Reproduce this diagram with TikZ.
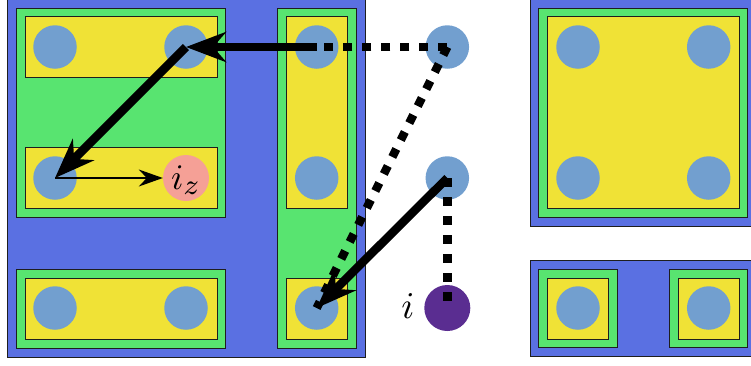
\documentclass[tikz,border=0pt]{standalone}
\usetikzlibrary{arrows.meta}
\definecolor{cblue}{RGB}{90,112,226}
\definecolor{cgreen}{RGB}{88,228,112}
\definecolor{cyellow}{RGB}{240,226,54}
\definecolor{cpin}{RGB}{114,159,207}
\definecolor{cpink}{RGB}{245,160,150}
\definecolor{cpurple}{RGB}{90,45,145}
\definecolor{cedge}{RGB}{30,30,30}
\begin{document}
\begin{tikzpicture}[x=1pt,y=-1pt,
  bluebox/.style={fill=cblue,draw=cedge,line width=0.9pt},
  greenbox/.style={fill=cgreen,draw=cedge,line width=0.9pt},
  yellowbox/.style={fill=cyellow,draw=cedge,line width=0.9pt},
  pin/.style={circle,fill=cpin,minimum size=43.5pt,inner sep=0pt},
  thickarrow/.style={line width=8.5pt,-{Stealth[length=40pt,width=30pt,inset=13pt]}},
  thinarrow/.style={line width=1.3pt,-{Stealth[length=24pt,width=17pt,inset=8pt]}},
  dotline/.style={line width=8.5pt,dash pattern=on 9pt off 10pt},
  bigtext/.style={scale=3.6,inner sep=0pt}]
\useasboundingbox (0,0) rectangle (751,365);
\clip (0,0) rectangle (751,365);
% left block
\path[bluebox] (7,-2) rectangle (365,357);
\path[greenbox] (16,8) rectangle (225.7,217);
\path[yellowbox] (25,16.7) rectangle (217,77.7);
\path[yellowbox] (25,147) rectangle (217,208);
\path[greenbox] (16,269) rectangle (225.7,348);
\path[yellowbox] (25,278) rectangle (217,339);
\path[greenbox] (277.7,8) rectangle (356,348);
\path[yellowbox] (286,16.7) rectangle (347.7,208);
\path[yellowbox] (286,278) rectangle (347.7,339);
% right blocks
\path[bluebox] (530,-2) rectangle (770,226);
\path[greenbox] (538.7,8) rectangle (747.7,217);
\path[yellowbox] (547.3,16.7) rectangle (739.3,208);
\path[bluebox] (530,260.7) rectangle (770,356.7);
\path[greenbox] (538.7,269) rectangle (617.3,347.7);
\path[yellowbox] (547.3,278) rectangle (608.7,339);
\path[greenbox] (669.3,269) rectangle (747.7,347.7);
\path[yellowbox] (678,278) rectangle (739.3,339);
% pins
\node[pin] (a1) at (55,47) {};
\node[pin] (a2) at (186,47) {};
\node[pin] (b1) at (55,178) {};
\node[pin,fill=cpink,minimum size=46pt] (iz) at (186,178) {};
\node[bigtext] (izlabel) at (186,180) {$i_{\mbox{\fontsize{8}{9}\selectfont$z$}}$};
\node[pin] (c1) at (55,308) {};
\node[pin] (c2) at (186,308) {};
\node[pin] (r1) at (316.7,47) {};
\node[pin] (r2) at (316.7,178) {};
\node[pin] (r3) at (316.7,308) {};
\node[pin] (f1) at (447.3,47) {};
\node[pin] (f2) at (447.3,178) {};
\node[pin,fill=cpurple,minimum size=46pt] (fi) at (447.3,308) {};
\node[bigtext,scale=1.05] (ilabel) at (408,306) {$i$};
\node[pin] (q1) at (578,47) {};
\node[pin] (q2) at (708.7,47) {};
\node[pin] (q3) at (578,178) {};
\node[pin] (q4) at (708.7,178) {};
\node[pin] (s1) at (578,308) {};
\node[pin] (s2) at (708.7,308) {};
% connectors
\draw[dotline] (f1.center) -- (r1.center);
\draw[dotline] (f1.center) -- (r3.center);
\draw[dotline] (f2.center) -- (fi.center);
\draw[thickarrow] (r1.center) -- (a2.center);
\draw[thickarrow] (a2.center) -- (b1.center);
\draw[thinarrow] (b1.center) -- (iz);
\draw[thickarrow] (f2.center) -- (r3.center);
\end{tikzpicture}
\end{document}
